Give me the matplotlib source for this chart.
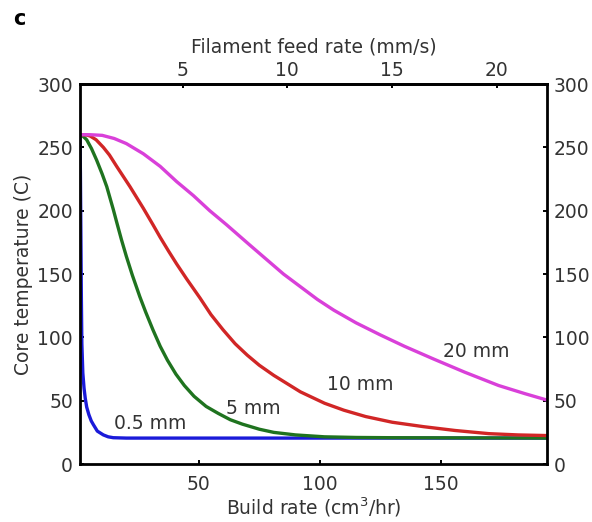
import matplotlib.pyplot as plt

plt.rcParams['font.family'] = ['DejaVu Sans']

# build rate (cm^3/hr) -> filament feed rate (mm/s) for 1.75 mm filament
feed_factor = 8.66

x_05 = [0.8, 1.0, 1.2, 1.4, 1.6, 2, 2.5, 3, 3.6, 4.5, 5.5, 6.4, 8, 10.5, 12.5, 14.6, 20, 60, 120, 194]
t_05 = [260, 230, 180, 130, 95, 72, 60, 52, 45, 39, 34, 31, 26, 23, 21.5, 20.8, 20.5, 20.5, 20.5, 20.5]

x_5 = [0.8, 2, 3.6, 5.6, 7.7, 10, 11.9, 14.6, 16, 18, 20, 22.5, 25.6, 28, 31, 34, 37, 40.5, 44, 48,
       53, 58, 63, 68, 75, 81, 90, 102, 115, 130, 194]
t_5 = [260, 259, 256, 249, 240, 229, 219, 201, 191, 177, 164, 149, 132, 120, 106, 93, 82, 71, 62, 53.5,
       45.5, 40, 35, 31.5, 27.5, 25, 23, 21.5, 21, 20.8, 20.5]

x_10 = [0.8, 3, 5, 7.5, 10.5, 13, 16, 21.5, 27, 31, 34, 37.5, 40.8, 45, 50.5, 55, 60, 65, 70, 75, 81,
        92, 102, 110, 119, 130, 143, 156, 170, 182, 194]
t_10 = [260, 260, 259, 256, 250, 244, 235, 219, 202, 189, 179, 168, 158, 146, 131, 118, 106, 95, 86, 78, 70,
        57, 48, 42.5, 37.5, 33, 29.5, 26.5, 24, 23, 22.5]

x_20 = [0.8, 5, 10, 15, 20, 27, 34, 40.8, 47.7, 54.5, 61.4, 71, 78.3, 85, 92, 99, 105.8, 115, 125,
        135, 147, 160, 174, 185, 194]
t_20 = [260, 260, 259.5, 257, 253, 245, 235, 223, 212, 200, 189, 173, 161, 150, 140, 130, 121.5, 111.5, 102,
        93, 83, 72.5, 62, 55.5, 50.5]

labels = ["0.5 mm", "5 mm", "10 mm", "20 mm"]
label_pos = [(30, 32), (72.6, 44), (116.8, 63), (164.7, 89)]

txt = '#333333'
fs = 13.5

fig = plt.figure(figsize=(5.92, 5.22), dpi=100)
ax = fig.add_axes([0.135, 0.111, 0.789, 0.728])

kw = dict(lw=2.4, solid_joinstyle='round', solid_capstyle='round')
ax.plot(x_05, t_05, color=(0.1, 0.1, 0.85), **kw)
ax.plot(x_5, t_5, color=(0.12, 0.45, 0.12), **kw)
ax.plot(x_10, t_10, color=(0.82, 0.15, 0.15), **kw)
ax.plot(x_20, t_20, color=(0.85, 0.25, 0.85), **kw)

for lab, (lx, ly) in zip(labels, label_pos):
    ax.text(lx, ly, lab, ha='center', va='center', fontsize=fs, color=txt)

ax.set_xlim(0.8, 194)
ax.set_ylim(0, 300)
ax.set_xticks([50, 100, 150])
ax.set_yticks(range(0, 301, 50))
ax.tick_params(axis='both', direction='in', length=3, width=1.4, labelsize=fs, pad=5,
               labelcolor=txt, top=False, right=True, labelright=True)
ax.tick_params(axis='x', pad=8)
for s in ax.spines.values():
    s.set_linewidth(2)

ax.set_xlabel("Build rate (cm$^3$/hr)", fontsize=fs, color=txt, labelpad=1)
ax.set_ylabel("Core temperature (C)", fontsize=fs, color=txt, labelpad=3)

top = ax.secondary_xaxis('top', functions=(lambda x: x / feed_factor, lambda f: f * feed_factor))
top.set_xticks([5, 10, 15, 20])
top.tick_params(direction='in', length=3, width=1.4, labelsize=fs, pad=3, labelcolor=txt)
top.spines['top'].set_linewidth(2)
top.set_xlabel("Filament feed rate (mm/s)", fontsize=fs, color=txt, labelpad=6)

fig.text(0.032, 0.964, "c", fontsize=15, fontweight='bold', va='center', ha='center')

fig.savefig("out.png", dpi=100)
